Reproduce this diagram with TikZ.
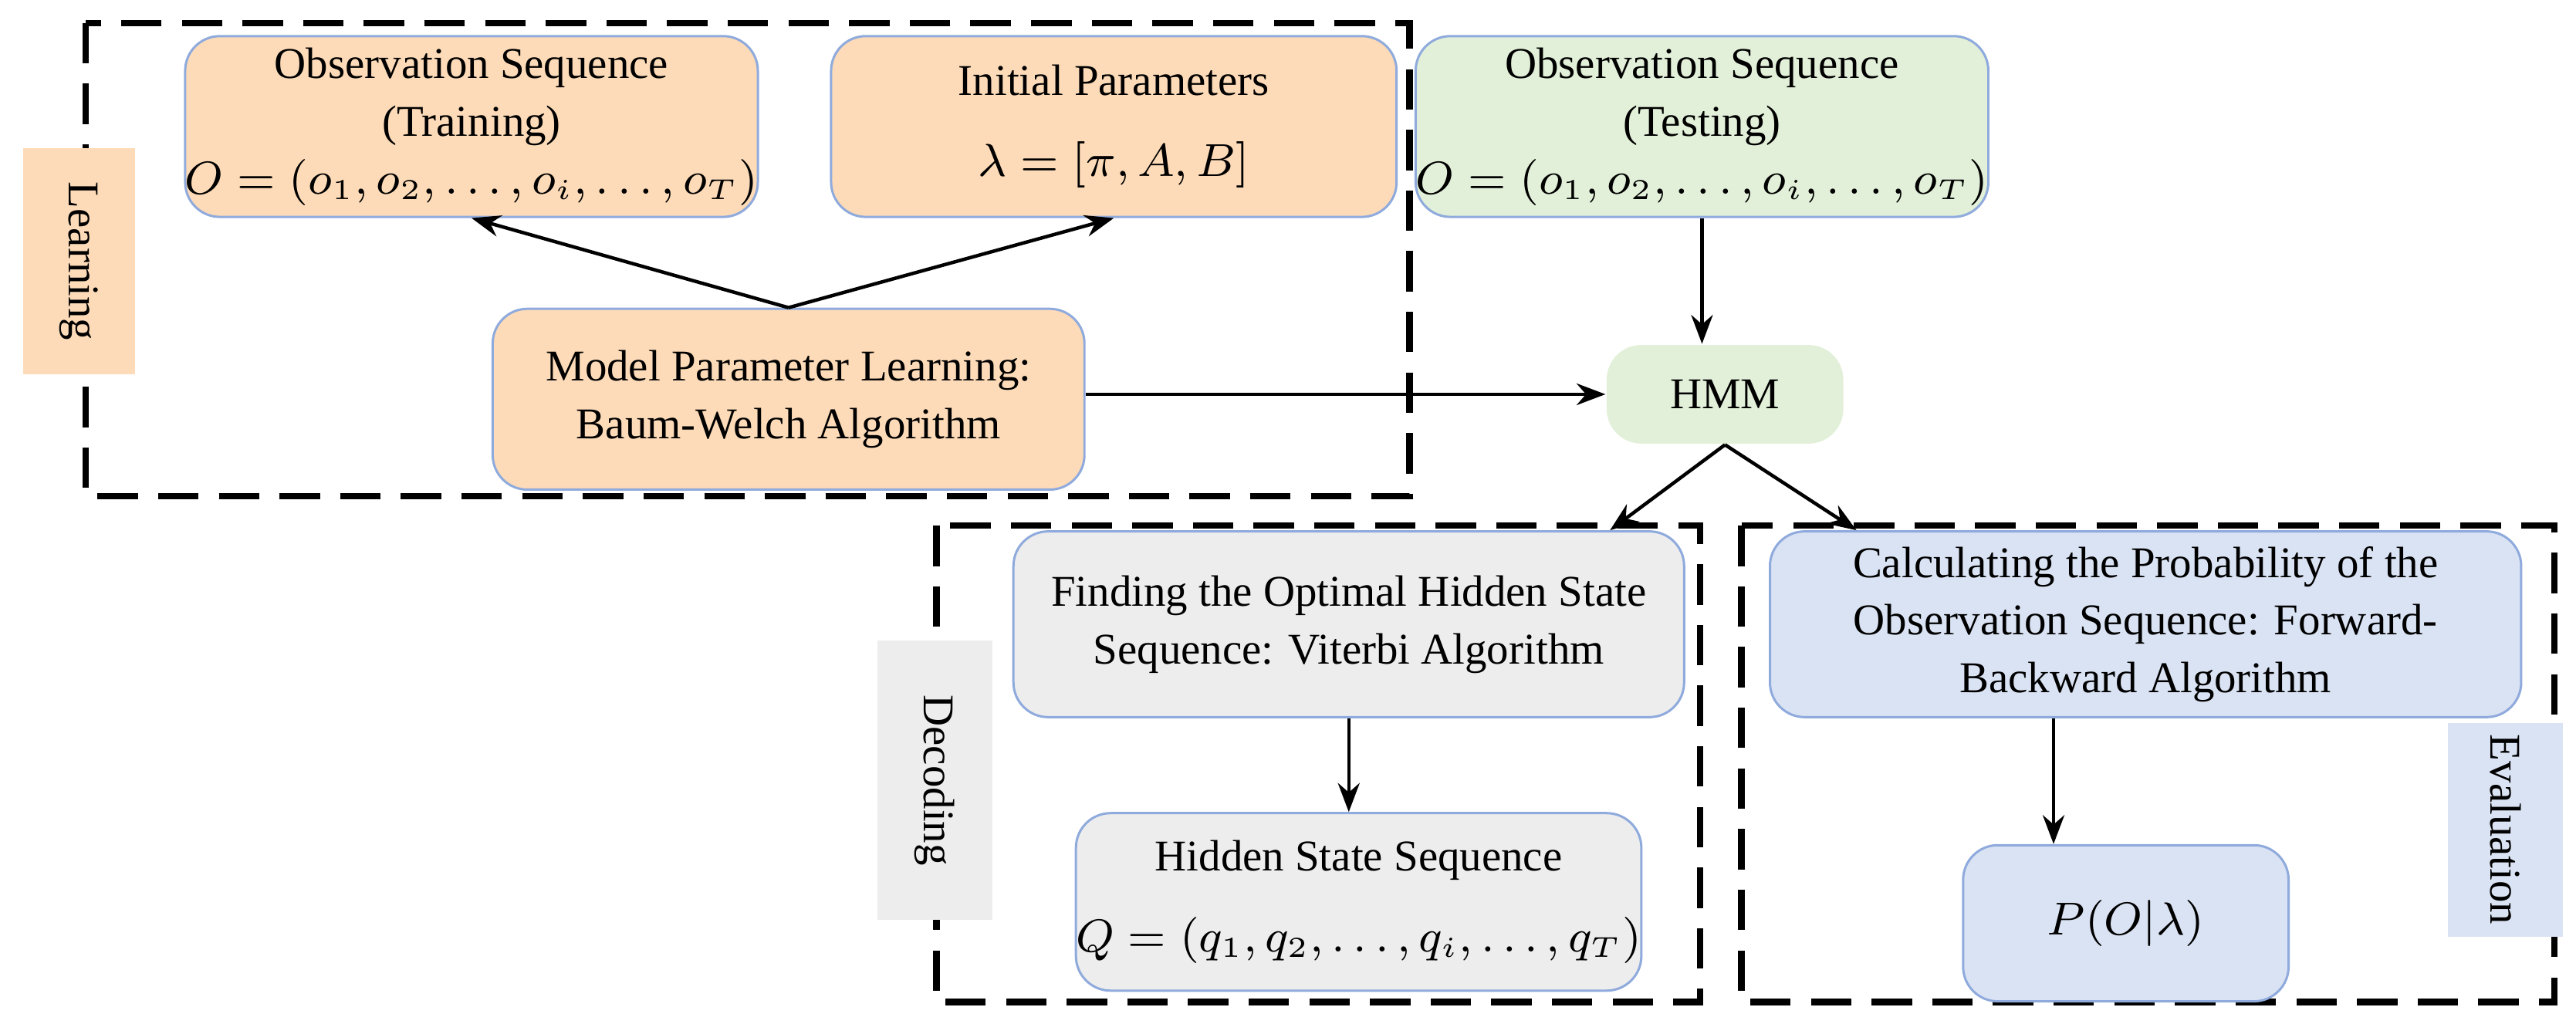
\documentclass[tikz,border=0pt]{standalone}
\usepackage{fontspec}
\setmainfont{Liberation Serif}
\usetikzlibrary{arrows.meta}
\definecolor{orangebox}{HTML}{FDDBB8}
\definecolor{greenbox}{HTML}{E2F0D9}
\definecolor{greybox}{HTML}{EDEDED}
\definecolor{bluebox}{HTML}{DAE3F3}
\definecolor{edgeblue}{HTML}{8FAADC}
\tikzset{
  blk/.style={draw=edgeblue, rounded corners=6pt, align=center, inner sep=0pt, font=\fontsize{7.6}{10}\selectfont},
  tag/.style={inner sep=0pt, rotate=-90, font=\fontsize{7.6}{10}\selectfont},
  grp/.style={dash pattern=on 7pt off 3.5pt, line width=1.1pt},
  arr/.style={-{Stealth[length=5pt]}, semithick}
}
\begin{document}
\begin{tikzpicture}[x=0.01cm, y=-0.01cm]
  \useasboundingbox (0,0) rectangle (1568,623);
  % groups
  \draw[grp] (52,14) rectangle (858,302);
  \draw[grp] (570,320) rectangle (1035,610);
  \draw[grp] (1060,320) rectangle (1555,610);
  % boxes
  \node[blk, fill=orangebox, minimum width=3.45cm, minimum height=1.1cm] (train) at (287,77)
    {Observation Sequence\\(Training)\\$O=\left(o_1,o_2,\ldots,o_i,\ldots,o_T\right)$};
  \node[blk, fill=orangebox, minimum width=3.44cm, minimum height=1.1cm] (init) at (678,77)
    {Initial Parameters\\[4pt]$\lambda=[\pi,A,B]$};
  \node[blk, fill=greenbox, minimum width=3.15cm, minimum height=1.1cm] (test) at (1036,77)
    {Observation Sequence\\(Testing)\\$O=\left(o_1,o_2,\ldots,o_i,\ldots,o_T\right)$};
  \node[blk, fill=orangebox, minimum width=3.6cm, minimum height=1.1cm] (bw) at (480,243)
    {Model Parameter Learning:\\Baum-Welch Algorithm};
  \node[blk, fill=greenbox, draw=none, minimum width=1.44cm, minimum height=0.6cm] (hmm) at (1050,240) {HMM};
  \node[blk, fill=greybox, minimum width=4.08cm, minimum height=1.13cm] (vit) at (821,380)
    {Finding the Optimal Hidden State\\Sequence: Viterbi Algorithm};
  \node[blk, fill=greybox, minimum width=3.2cm, minimum height=1.08cm] (hid) at (827,549)
    {Hidden State Sequence\\[4pt]$Q=\left(q_1,q_2,\ldots,q_i,\ldots,q_T\right)$};
  \node[blk, fill=bluebox, minimum width=4.57cm, minimum height=1.13cm] (fb) at (1306,380)
    {Calculating the Probability of the\\Observation Sequence: Forward-\\Backward Algorithm};
  \node[blk, fill=bluebox, minimum width=1.98cm, minimum height=0.95cm] (prob) at (1294,562)
    {$P(O|\lambda)$};
  % side labels
  \node[tag, fill=orangebox, minimum width=1.38cm, minimum height=0.68cm] (learn) at (48,159) {Learning};
  \node[tag, fill=greybox, minimum width=1.7cm, minimum height=0.7cm] (dec) at (569,475) {Decoding};
  \node[tag, fill=bluebox, minimum width=1.3cm, minimum height=0.7cm] (eval) at (1525,505) {Evaluation};
  % connectors
  \draw[arr] (bw.north) -- (train.south);
  \draw[arr] (bw.north) -- (init.south);
  \draw[arr] (bw.east |- hmm.west) -- (hmm.west);
  \draw[arr] (test.south) -- (test.south |- hmm.north);
  \draw[arr] (hmm.south) -- (vit.north -| 980,0);
  \draw[arr] (hmm.south) -- (fb.north -| 1130,0);
  \draw[arr] (vit.south) -- (hid.north -| vit.south);
  \draw[arr] (fb.south -| 1250,0) -- (prob.north -| 1250,0);
\end{tikzpicture}
\end{document}
